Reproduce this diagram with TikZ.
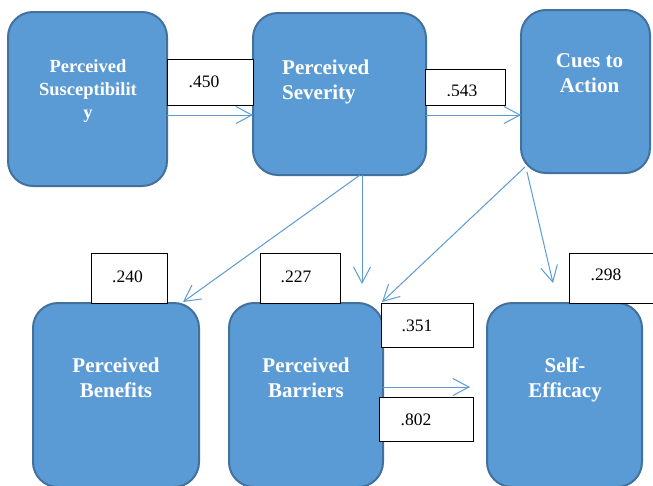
\documentclass[tikz,border=0pt]{standalone}
\usepackage{fontspec}
\setmainfont{Liberation Serif}
\usetikzlibrary{arrows.meta}
\definecolor{boxfill}{HTML}{5B9BD5}
\definecolor{boxline}{HTML}{41719C}
\begin{document}
\begin{tikzpicture}[x=1pt,y=-1pt,
  hbm/.style={draw=boxline,line width=2pt,fill=boxfill,rounded corners=25pt,
    rectangle,outer sep=0pt,inner sep=0pt},
  btext/.style={text=white,font=\bfseries\fontsize{21}{24.5}\selectfont,
    inner sep=0pt,align=center,anchor=north},
  lbox/.style={draw=black,line width=1pt,fill=white,rectangle,outer sep=0pt,inner sep=0pt},
  ltext/.style={font=\fontsize{17.5}{20}\selectfont,inner sep=0pt,anchor=base},
  arr/.style={draw=boxfill,line width=1pt,-{Straight Barb[length=16pt,width=17pt,line width=1pt]}}
]
\clip (0,0) rectangle (653,485);
\fill[white] (0,0) rectangle (653,485);

% main boxes
\node[hbm,minimum width=159pt,minimum height=174pt] (ps)   at (87.5,99) {};
\node[hbm,minimum width=173pt,minimum height=162pt] (psev) at (339.5,94) {};
\node[hbm,minimum width=129pt,minimum height=163pt] (cues) at (585.5,91.5) {};
\node[hbm,minimum width=166pt,minimum height=184pt] (pb)   at (116,395) {};
\node[hbm,minimum width=154pt,minimum height=184pt] (pbar) at (306,395) {};
\node[hbm,minimum width=155pt,minimum height=184pt] (se)   at (564.5,395) {};

% box texts
\node[btext,font=\bfseries\fontsize{18.5}{23}\selectfont] (tps) at (88,59.4) {Perceived\\Susceptibilit\\y};
\node[btext,align=left,anchor=north west] (tpsev) at (282,59.8) {Perceived\\Severity};
\node[btext] (tcues) at (589.5,53.8) {Cues to\\Action};
\node[btext] (tpb) at (116,357.8) {Perceived\\Benefits};
\node[btext] (tpbar) at (306,357.8) {Perceived\\Barriers};
\node[btext] (tse) at (565,357.8) {Self-\\Efficacy};

% connectors
\draw[arr] (ps.east |- {0,115}) -- (psev.west |- {0,115});
\draw[arr] (psev.east |- {0,115}) -- (cues.west |- {0,115});
\draw[arr] ([xshift=20.5pt]psev.south) -- ([xshift=67pt,yshift=1pt]pb.north);
\coordinate (e4) at ([xshift=56pt,yshift=19pt]pbar.north);
\draw[arr] ([xshift=22.5pt]psev.south) -- (e4);
\draw[arr] ([xshift=4pt,yshift=6pt]cues.south west) -- ([xshift=-1pt,yshift=1pt]pbar.north east);
\coordinate (e6) at ([xshift=-11.5pt,yshift=20pt]se.north);
\draw[arr] ([xshift=6pt,yshift=1pt]cues.south west) -- (e6);
\coordinate (e7) at ([xshift=-17pt,yshift=8pt]se.west);
\draw[arr] ([yshift=8pt]pbar.east) -- (e7);

% label boxes
\node[lbox,minimum width=86pt,minimum height=46pt] (l450) at (210,82) {};
\node[lbox,minimum width=80pt,minimum height=36pt] (l543) at (465,87) {};
\node[lbox,minimum width=76pt,minimum height=50pt] (l240) at (129,278) {};
\node[lbox,minimum width=80pt,minimum height=50pt] (l227) at (300,278) {};
\node[lbox,minimum width=92pt,minimum height=50pt] (l298) at (615,278) {};
\node[lbox,minimum width=92pt,minimum height=44pt] (l351) at (427,325) {};
\node[lbox,minimum width=94pt,minimum height=44pt] (l802) at (426,419) {};

\node[ltext] (t450) at (204,87) {.450};
\begin{scope}
\clip (425,69) rectangle (505,95);
\node[ltext] (t543) at (462,96) {.543};
\end{scope}
\node[ltext] (t240) at (127.5,282) {.240};
\node[ltext] (t227) at (296,282) {.227};
\node[ltext] (t298) at (606,280) {.298};
\node[ltext] (t351) at (417,331) {.351};
\node[ltext] (t802) at (416,425) {.802};
\end{tikzpicture}
\end{document}
